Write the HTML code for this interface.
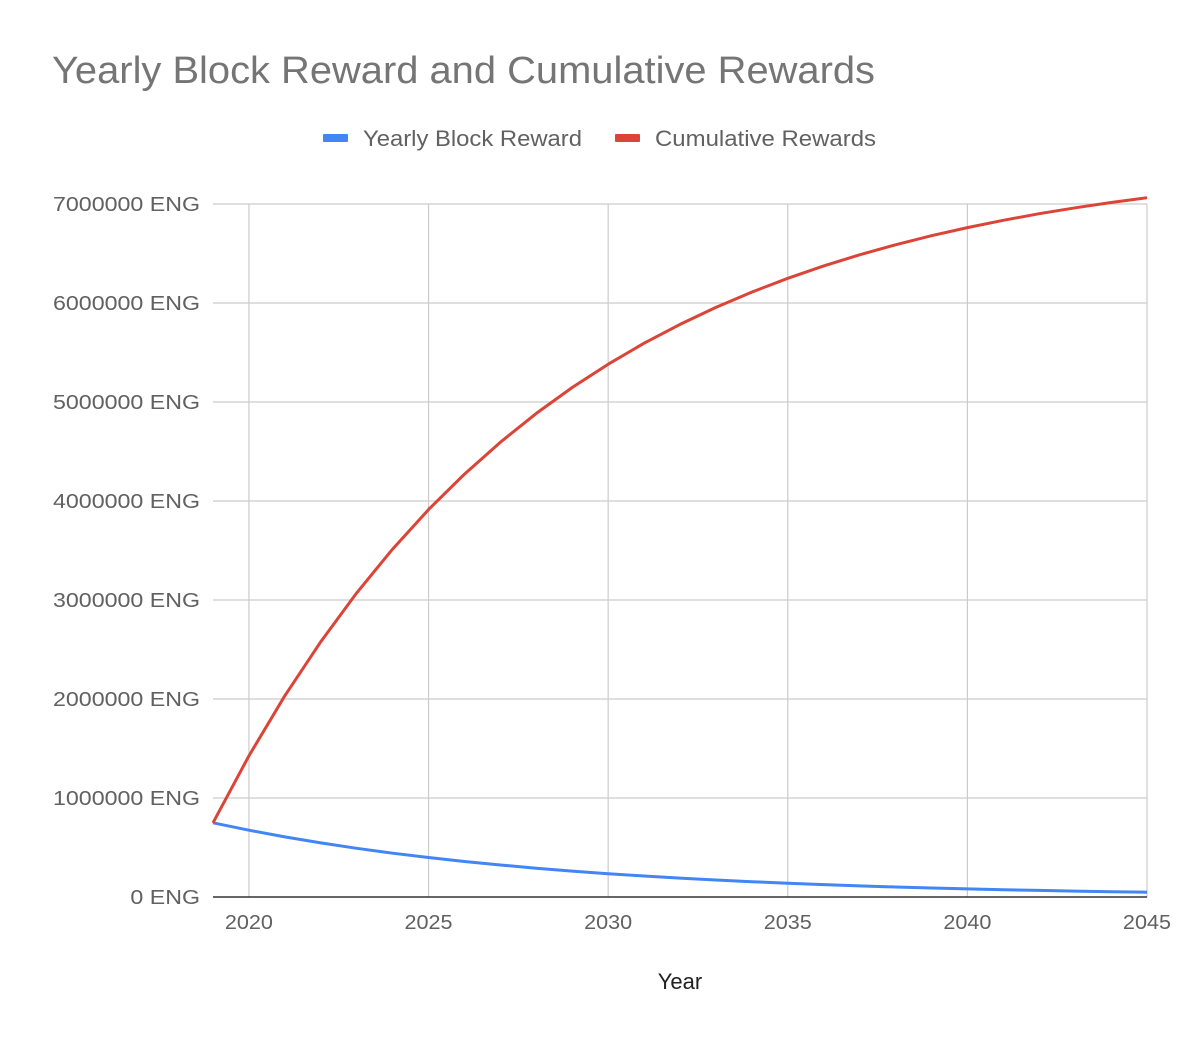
<!DOCTYPE html>
<html><head><meta charset="utf-8"><style>
html,body{margin:0;padding:0;background:#fff}
svg text{font-family:"Liberation Sans",Arial,sans-serif}
</style></head><body>
<svg width="1200" height="1047" viewBox="0 0 1200 1047" xmlns="http://www.w3.org/2000/svg">
<text x="52" y="83" font-size="38" fill="#757575" textLength="823" lengthAdjust="spacingAndGlyphs">Yearly Block Reward and Cumulative Rewards</text>
<g>
<rect x="323" y="134" width="25" height="8" rx="1" fill="#4285f4"/>
<text x="363" y="146" font-size="22" fill="#616161" textLength="219" lengthAdjust="spacingAndGlyphs">Yearly Block Reward</text>
<rect x="615" y="134" width="25" height="8" rx="1" fill="#db4437"/>
<text x="655" y="146" font-size="22" fill="#616161" textLength="221" lengthAdjust="spacingAndGlyphs">Cumulative Rewards</text>
</g>
<g id="grid"></g>
<g id="axes"></g>
<g id="series"></g>
<text x="680" y="989" font-size="22" fill="#222" text-anchor="middle">Year</text>
</svg>
<script>
const years=[2019,2020,2021,2022,2023,2024,2025,2026,2027,2028,2029,2030,2031,2032,2033,2034,2035,2036,2037,2038,2039,2040,2041,2042,2043,2044,2045];
const yearlyReward=[750000,675000,607500,546750,492075,442868,398581,358723,322850,290565,261509,235358,211822,190640,171576,154418,138977,125079,112571,101314,91183,82065,73858,66472,59825,53843,48458];
const cumulativeRewards=[750000,1425000,2032500,2579250,3071325,3514193,3912773,4271496,4594346,4884911,5146420,5381778,5593600,5784240,5955816,6110234,6249211,6374290,6486861,6588175,6679358,6761423,6835281,6901753,6961578,7015421,7063879];
const yTicks=[0,1000000,2000000,3000000,4000000,5000000,6000000,7000000];
const xTicks=[2020,2025,2030,2035,2040,2045];
const NS="http://www.w3.org/2000/svg";
const X0=213,X1=1147,Y0=897,Y1=204;
const xS=v=>X0+(v-2019)/(2045-2019)*(X1-X0);
const yS=v=>Y0-v/7000000*(Y0-Y1);
function mk(tag,attrs,parent){const e=document.createElementNS(NS,tag);for(const k in attrs)e.setAttribute(k,attrs[k]);parent.appendChild(e);return e;}
function widen(t,f){const w=t.getComputedTextLength();t.setAttribute('textLength',(w*f).toFixed(1));t.setAttribute('lengthAdjust','spacingAndGlyphs');}
const grid=document.getElementById('grid'),axes=document.getElementById('axes'),series=document.getElementById('series');
yTicks.forEach(t=>{
 const l=mk('line',{x1:X0,x2:X1,y1:yS(t),y2:yS(t),stroke:t===0?'#333':'#ccc','stroke-width':t===0?1.5:1.2},t===0?axes:grid);
 
 
 const tx=mk('text',{x:200,y:yS(t)+7,'font-size':20,fill:'#616161','text-anchor':'end'},axes);
 tx.textContent=t+' ENG';
 
 
 widen(tx,1.16);
});
xTicks.forEach(t=>{
 const l=mk('line',{x1:xS(t),x2:xS(t),y1:Y1,y2:Y0,stroke:'#ccc','stroke-width':1.2},grid);
 
 
 const tx=mk('text',{x:xS(t),y:929,'font-size':20,fill:'#616161','text-anchor':'middle'},axes);
 tx.textContent=t;
 
 
 widen(tx,1.08);
});
function line(vals,color,name){
 const d=vals.map((v,i)=>(i?'L':'M')+xS(years[i]).toFixed(1)+' '+yS(v).toFixed(1)).join(' ');
 const p=mk('path',{d:d,fill:'none',stroke:color,'stroke-width':3,'stroke-linejoin':'round'},series);
 
 
}
line(yearlyReward,'#4285f4','yearly-reward-line');
line(cumulativeRewards,'#db4437','cumulative-rewards-line');
</script>
</body></html>
